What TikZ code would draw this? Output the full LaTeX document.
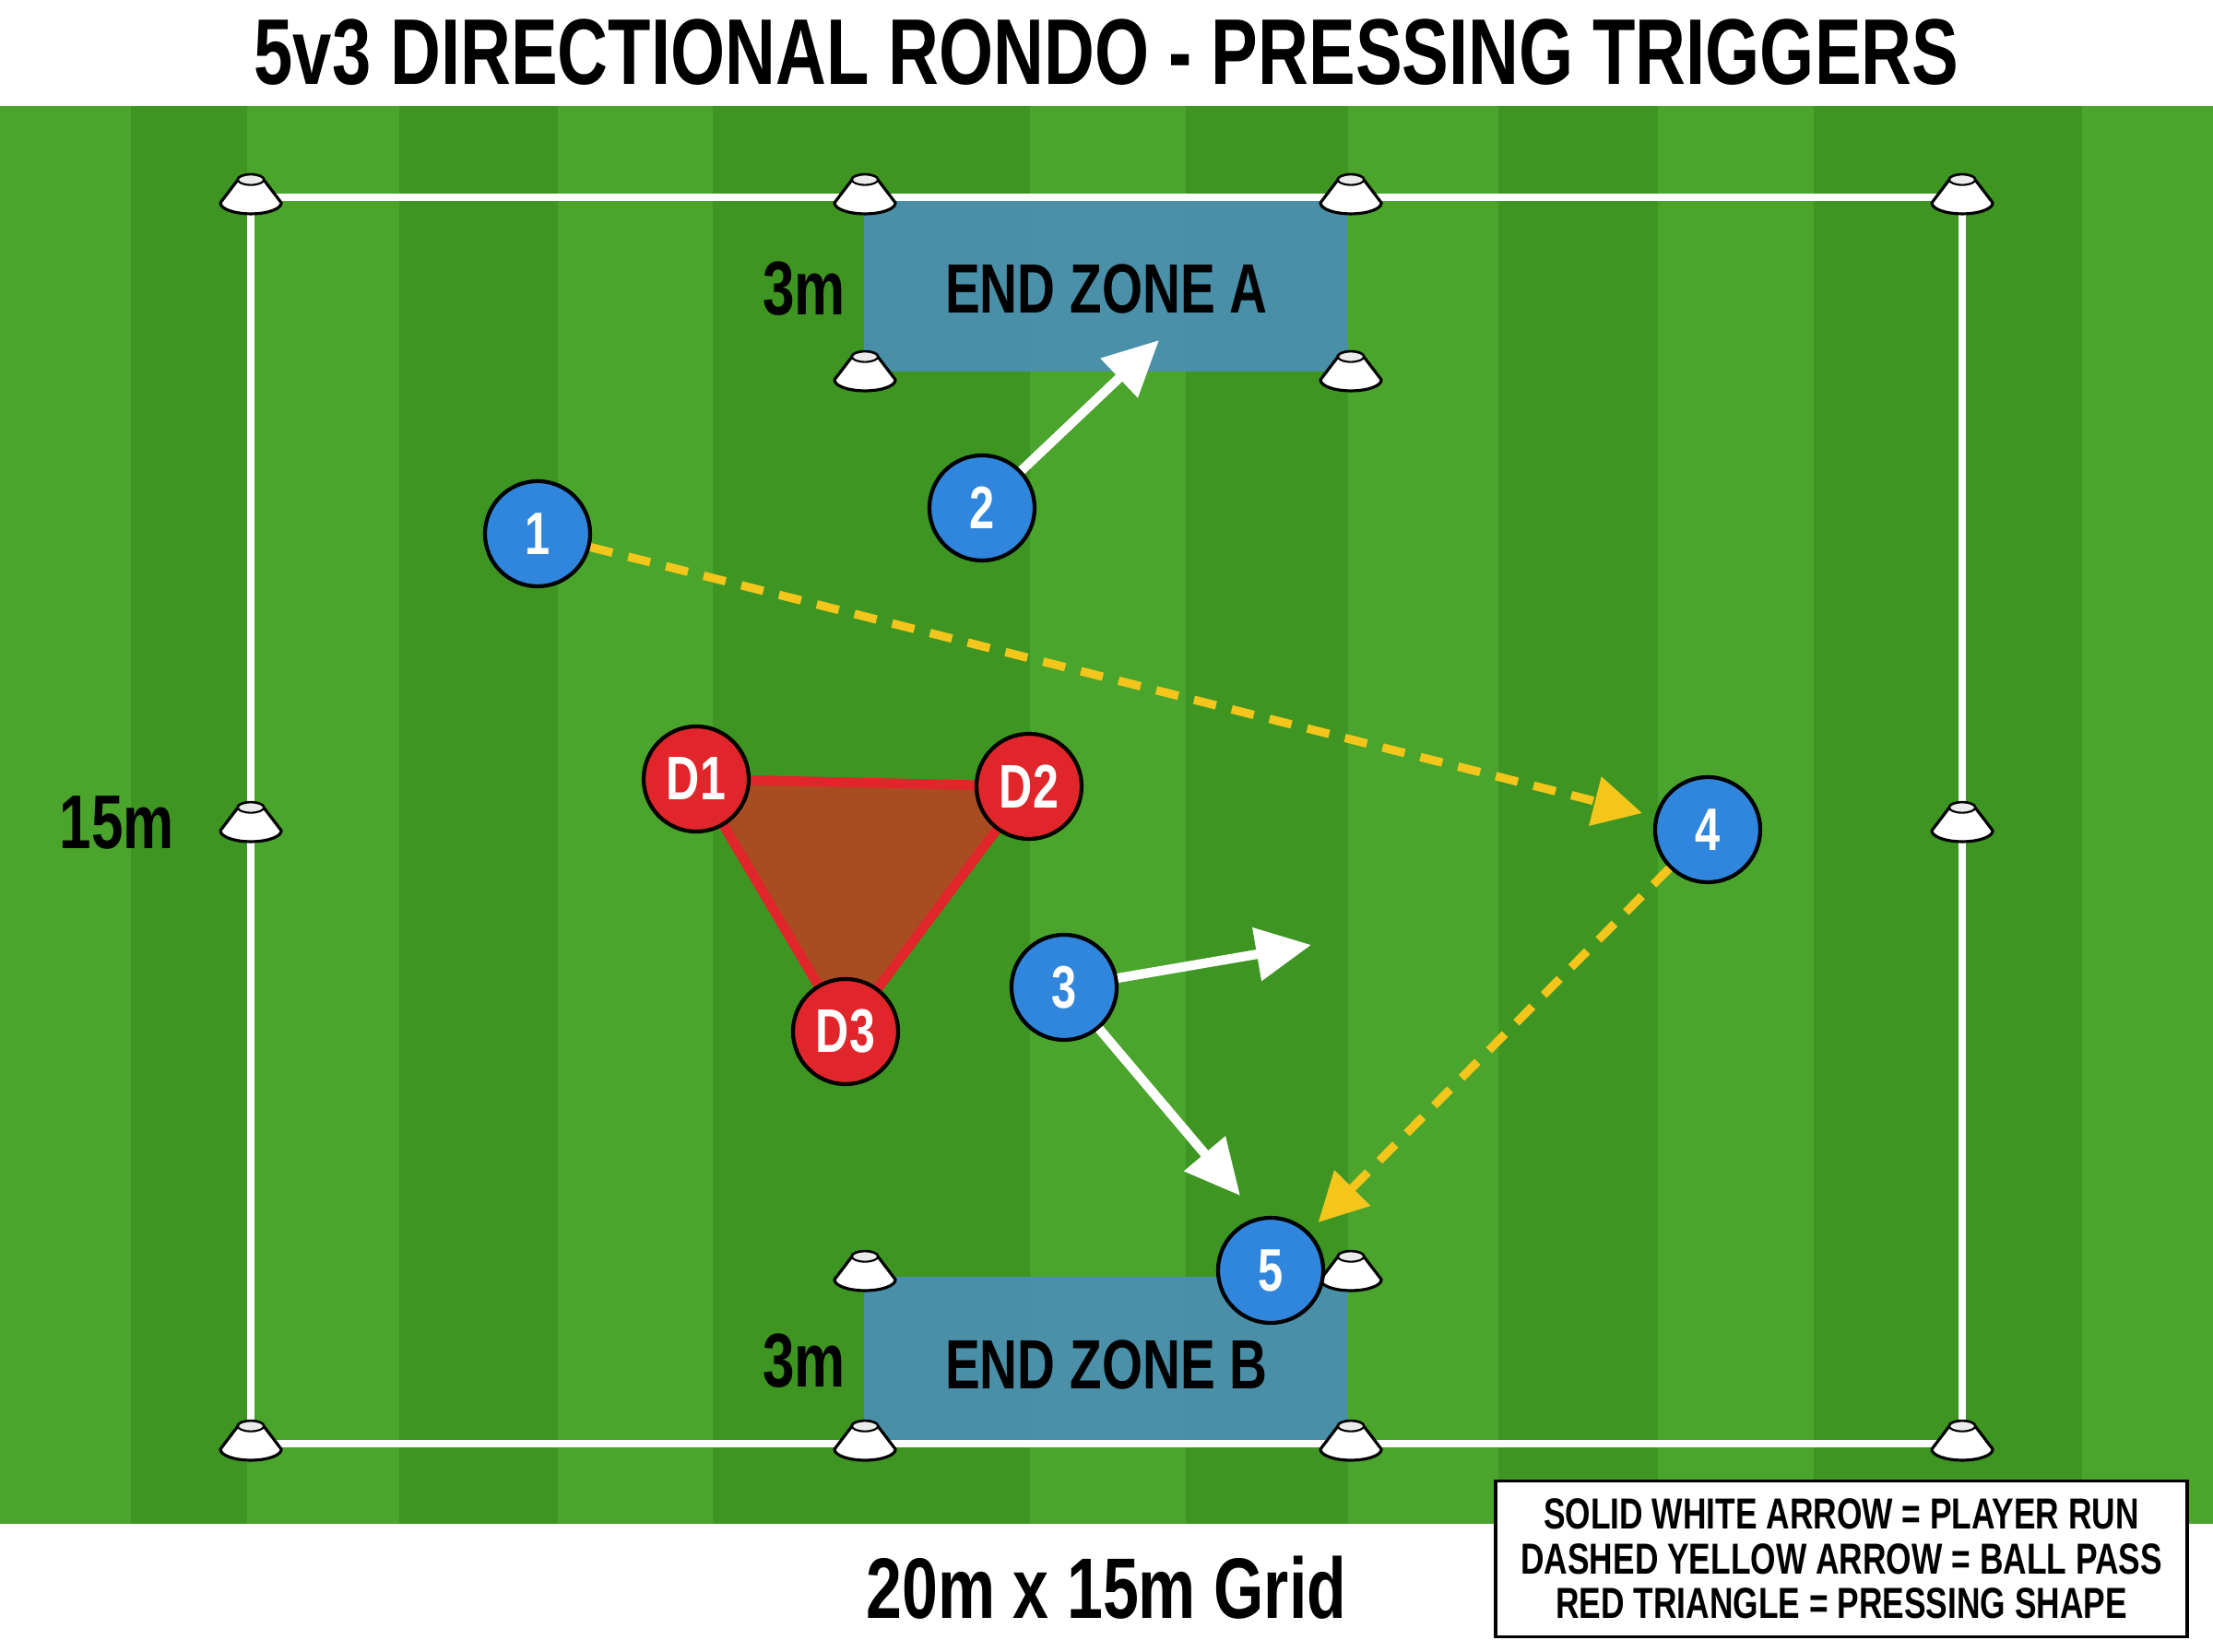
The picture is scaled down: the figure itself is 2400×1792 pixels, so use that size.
\documentclass[tikz,border=0pt]{standalone}
\usepackage{fontspec}
\setmainfont{Liberation Sans}[FakeStretch=0.75]
\usetikzlibrary{arrows.meta}

\definecolor{grasslight}{HTML}{4BA42C}
\definecolor{grassdark}{HTML}{3E9522}
\definecolor{zoneblue}{HTML}{4A8FB4}
\definecolor{playerblue}{HTML}{2F86DC}
\definecolor{defred}{HTML}{E0262A}
\definecolor{passyellow}{HTML}{F4C61C}
\definecolor{pressfill}{HTML}{A84D22}

\tikzset{
	pitchcone/.pic={
		\filldraw[fill=white, draw=black, line width=0.9pt, line join=round]
			(-14,-19) -- (-33,6) arc[start angle=180, end angle=360, x radius=9.4pt, y radius=3.4pt]
			-- (14,-19) arc[start angle=0, end angle=180, x radius=4pt, y radius=1.6pt] -- cycle;
		\draw[black, line width=0.6pt, fill=black!8] (0,-19) ellipse[x radius=4pt, y radius=1.6pt];
	}
}

\begin{document}
\begin{tikzpicture}[x=0.01cm, y=-0.01cm, >=Triangle]
	\tikzstyle{player} = [circle, draw=black, line width=1.2pt, fill=playerblue, minimum size=1.14cm, inner sep=0pt, text=white, font=\bfseries\fontsize{18.5}{18.5}\selectfont]
	\tikzstyle{defender} = [player, fill=defred, font=\bfseries\fontsize{19}{19}\selectfont]
	\tikzstyle{run} = [draw=white, line width=2.9pt, -{Triangle[length=17pt,width=16pt]}]
	\tikzstyle{pass} = [draw=passyellow, line width=2.6pt, dash pattern=on 7pt off 5pt, -{Triangle[length=15pt,width=15pt]}, shorten >=4pt]
	\tikzstyle{zonetext} = [font=\bfseries\fontsize{21.5}{21.5}\selectfont]
	\tikzstyle{sizetext} = [font=\bfseries\fontsize{23.5}{23.5}\selectfont]

	\useasboundingbox (0,0) rectangle (2400,1792);
	\fill[white] (0,0) rectangle (2400,1792);

	% pitch with stripes
	\fill[grasslight] (0,115) rectangle (2400,1653);
	\foreach \a/\b in {142/268, 433/605, 773/1117, 1286/1462, 1625/1798, 1967/2258}
		\fill[grassdark] (\a,115) rectangle (\b,1653);

	% end zones
	\fill[zoneblue, fill opacity=0.92] (937,218) rectangle (1462,403);
	\fill[zoneblue, fill opacity=0.92] (937,1385) rectangle (1462,1562);

	\draw[white, line width=2.2pt] (272,214) rectangle (2128,1566);

	\foreach \x/\y in {272/214, 938/214, 1465/214, 2128/214, 272/895, 2128/895,
		272/1566, 938/1566, 1465/1566, 2128/1566, 938/406, 1465/406, 938/1382, 1465/1382}
		\pic at (\x,\y) {pitchcone};

	% texts
	\node[font=\bfseries\fontsize{28.8}{28.8}\selectfont] (title) at (1200,57) {5v3 DIRECTIONAL RONDO - PRESSING TRIGGERS};
	\node[zonetext] (zoneA) at (1200,313) {END ZONE A};
	\node[zonetext] (zoneB) at (1200,1480) {END ZONE B};
	\node[sizetext] (depthA) at (872,313) {3m};
	\node[sizetext] (depthB) at (872,1476) {3m};
	\node[sizetext] (side) at (127,892) {15m};
	\node[font=\bfseries\fontsize{26.5}{26.5}\selectfont] (grid) at (1200,1722) {20m x 15m Grid};

	% pressing triangle
	\coordinate (d1pos) at (755,845);
	\coordinate (d2pos) at (1116,853);
	\coordinate (d3pos) at (917,1119);
	\filldraw[draw=defred, fill=pressfill, line width=3pt, line join=round] (d1pos) -- (d2pos) -- (d3pos) -- cycle;

	\node[defender] (d1) at (d1pos) {D1};
	\node[defender] (d2) at (d2pos) {D2};
	\node[defender] (d3) at (d3pos) {D3};

	\node[player] (p1) at (583,579) {1};
	\node[player] (p2) at (1065,551) {2};
	\node[player] (p3) at (1154,1071) {3};
	\node[player] (p4) at (1852,900) {4};
	\node[player] (p5) at (1378,1378) {5};

	\coordinate (run2) at (1257,369);
	\coordinate (run3a) at (1422,1025);
	\coordinate (run3b) at (1345,1297);

	\path
		(p2) edge[run] (run2)
		(p3) edge[run] (run3a)
		(p3) edge[run] (run3b)
		(p1) edge[pass] (p4)
		(p4) edge[pass] (p5)
	;

	% key
	\node[draw=black, line width=1pt, fill=white, minimum width=7.5cm, minimum height=1.69cm, align=center,
		font=\bfseries\fontsize{13.4}{13.8}\selectfont] (key) at (1997,1691)
		{SOLID WHITE ARROW = PLAYER RUN\\DASHED YELLOW ARROW = BALL PASS\\RED TRIANGLE = PRESSING SHAPE};
\end{tikzpicture}
\end{document}
